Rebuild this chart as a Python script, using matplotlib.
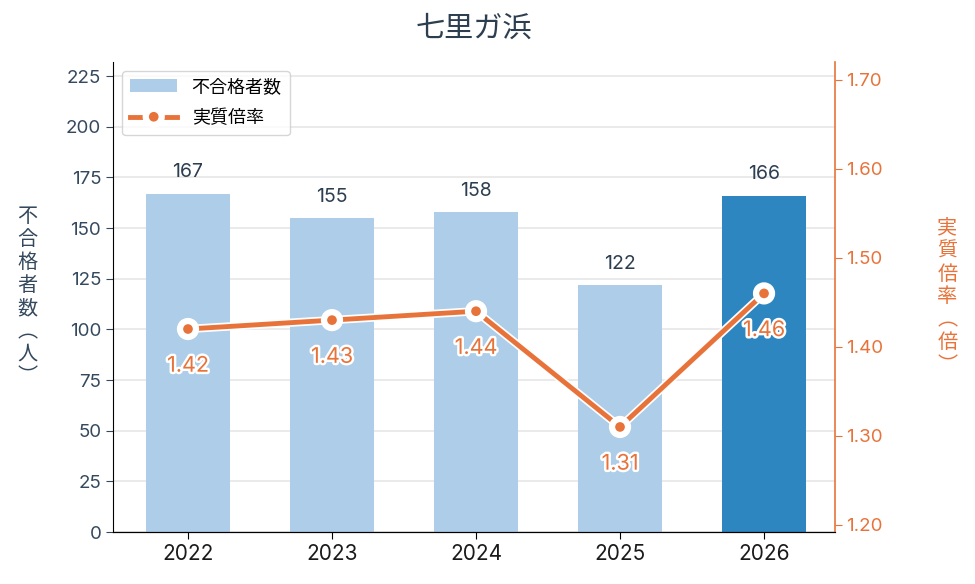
import matplotlib
matplotlib.use("Agg")
import matplotlib.pyplot as plt
import matplotlib.patheffects as pe
import numpy as np

plt.rcParams['font.family'] = ['Inter', 'Noto Sans CJK JP', 'DejaVu Sans']

# data
years = ["2022", "2023", "2024", "2025", "2026"]
fails = [167, 155, 158, 122, 166]
ratio = [1.42, 1.43, 1.44, 1.31, 1.46]

light = "#aecde8"
dark = "#2e86c1"
orange = "#e8733a"
navy = "#2c3e50"
cjk = ['Noto Sans CJK JP', 'DejaVu Sans']

x = np.arange(len(years))
bar_colors = [light] * (len(years) - 1) + [dark]

fig, ax = plt.subplots(figsize=(9.75, 5.84), dpi=100)
fig.subplots_adjust(left=0.116, right=0.856, top=0.894, bottom=0.089)

bars = ax.bar(x, fails, width=0.58, color=bar_colors, zorder=2, label="不合格者数")
ax.set_xlim(-0.52, 4.49)
ax.set_ylim(0, 232)
ax.set_yticks(range(0, 226, 25))
ax.grid(axis="y", color="#e6e6e6", linewidth=1.2, zorder=0)
ax.set_axisbelow(True)
for xi, v in zip(x, fails):
    ax.text(xi, v + 6, str(v), ha="center", va="bottom", fontsize=14, color=navy)

ax.set_xticks(x)
ax.set_xticklabels(years, fontsize=15, color="#1a1a1a")
ax.tick_params(axis="y", labelsize=13.5, colors="#34495e", length=5)
ax.tick_params(axis="x", length=5)
ax.spines["top"].set_visible(False)
ax.spines["right"].set_visible(False)
ax.set_ylabel("\n".join("不合格者数") + "\n︵\n人\n︶", rotation=0, fontsize=14.5,
              family=cjk, color="#34495e", va="center", ha="center",
              linespacing=1.12, labelpad=28)

ax2 = ax.twinx()
ax2.set_ylim(1.192, 1.72)
ax2.set_yticks([1.2, 1.3, 1.4, 1.5, 1.6, 1.7])
ax2.set_yticklabels([f"{t:.2f}" for t in [1.2, 1.3, 1.4, 1.5, 1.6, 1.7]])
ax2.tick_params(axis="y", colors=orange, labelsize=13.5, length=5)
ax2.spines["top"].set_visible(False)
ax2.spines["left"].set_visible(False)
ax2.spines["right"].set_color(orange)
ax2.spines["right"].set_linewidth(1.2)
ax2.set_ylabel("\n".join("実質倍率") + "\n︵\n倍\n︶", rotation=0, fontsize=14.5,
               family=cjk, color=orange, va="center", ha="center",
               linespacing=1.12, labelpad=46)

line, = ax2.plot(x, ratio, color=orange, linewidth=3.5, marker="o", markersize=10,
                 markerfacecolor=orange, markeredgecolor="white", markeredgewidth=3,
                 zorder=3, label="実質倍率",
                 path_effects=[pe.Stroke(linewidth=6, foreground="white"), pe.Normal()])
for xi, r in zip(x, ratio):
    ax2.text(xi, r - 0.03, f"{r:.2f}", ha="center", va="top", fontsize=15.5, color=orange,
             path_effects=[pe.withStroke(linewidth=3.5, foreground="white")], zorder=4)

leg = ax.legend([bars, line], ["不合格者数", "実質倍率"], loc="upper left", fontsize=13,
                frameon=True, fancybox=True, edgecolor="#cccccc", handlelength=2.6,
                borderpad=0.45, labelspacing=0.75)
leg.set_zorder(5)

ax.set_title("七里ガ浜", fontsize=21, color=navy, pad=18)

fig.savefig("out.png", dpi=100)
